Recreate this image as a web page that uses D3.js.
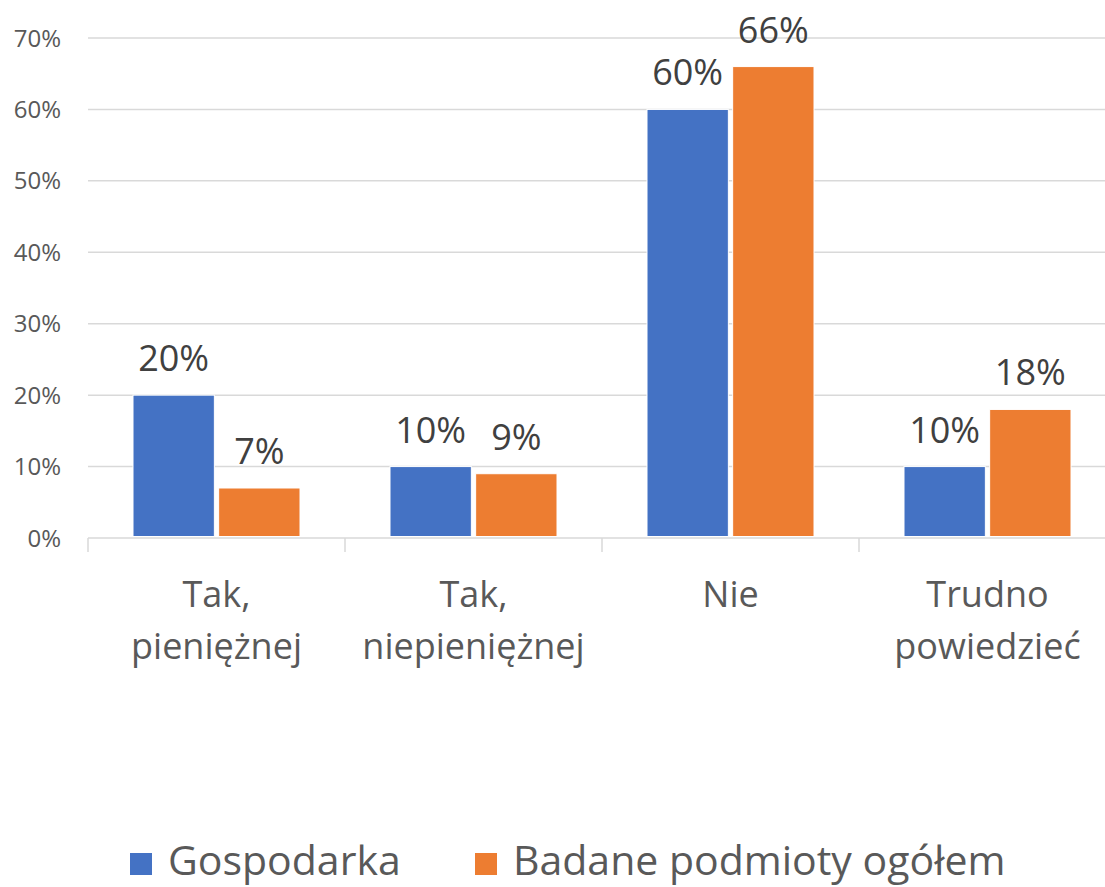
<!DOCTYPE html>
<html>
<head>
<meta charset="utf-8">
<script src="https://cdn.jsdelivr.net/npm/d3@7"></script>
<style>
  body { margin: 0; background: #fff; }
  text { font-family: "Open Sans", "Noto Sans", sans-serif; }
</style>
</head>
<body>
<div id="chart"></div>
<script>
// chart data
var categories = [["Tak,", "pieniężnej"], ["Tak,", "niepieniężnej"], ["Nie"], ["Trudno", "powiedzieć"]];
var seriesNames = ["Gospodarka", "Badane podmioty ogółem"];
var gospodarka = [0.20, 0.10, 0.60, 0.10];
var ogolem = [0.07, 0.09, 0.66, 0.18];
var yTicks = [0, 0.1, 0.2, 0.3, 0.4, 0.5, 0.6, 0.7];
var colors = ["#4472c4", "#ed7d31"];

function init(){
    var w = 1105;
    var h = 887;

    var svg = d3.select("#chart")
                .append("svg")
                .attr("width", w)
                .attr("height", h);

    // category scale, last band runs off the right edge like the original
    var x0 = d3.scaleBand()
                .domain(d3.range(categories.length))
                .range([88, 1116])
                .paddingInner(0);

    var x1 = d3.scaleBand()
                .domain(d3.range(seriesNames.length))
                .range([45, x0.bandwidth() - 45])
                .paddingInner(0.05);

    var yScale = d3.scaleLinear()
                .domain([0, 0.7])
                .range([538, 38]);

    // gridlines
    svg.append("g")
        .selectAll("line")
        .data(yTicks.slice(1))
        .enter()
        .append("line")
        .attr("x1", 88)
        .attr("x2", 1116)
        .attr("y1", function(d){ return yScale(d); })
        .attr("y2", function(d){ return yScale(d); })
        .attr("stroke", "#d9d9d9")
        .attr("stroke-width", 1.5);

    // y labels
    svg.append("g")
        .selectAll("text")
        .data(yTicks)
        .enter()
        .append("text")
        .attr("x", 61)
        .attr("y", function(d){ return yScale(d); })
        .attr("dy", "0.36em")
        .attr("text-anchor", "end")
        .attr("font-size", "24px")
        .attr("fill", "#595959")
        .text(d3.format(".0%"));

    // bars
    var values = [gospodarka, ogolem];
    var groups = svg.append("g")
        .selectAll("g")
        .data(d3.range(categories.length))
        .enter()
        .append("g")
        .attr("transform", function(i){ return "translate(" + x0(i) + ",0)"; });

    groups.selectAll("rect")
        .data(function(i){ return values.map(function(v, s){ return {s: s, v: v[i]}; }); })
        .enter()
        .append("rect")
        .attr("x", function(d){ return x1(d.s); })
        .attr("y", function(d){ return yScale(d.v); })
        .attr("width", x1.bandwidth())
        .attr("height", function(d){ return yScale(0) - yScale(d.v) - 1.5; })
        .attr("fill", function(d){ return colors[d.s]; })
        .attr("stroke", "#fff")
        .attr("stroke-width", 1);

    // data labels
    groups.selectAll(".label")
        .data(function(i){ return values.map(function(v, s){ return {s: s, v: v[i]}; }); })
        .enter()
        .append("text")
        .attr("class", "label")
        .attr("x", function(d){ return x1(d.s) + x1.bandwidth() / 2; })
        .attr("y", function(d){ return yScale(d.v) - 24; })
        .attr("text-anchor", "middle")
        .attr("font-size", "36px")
        .attr("fill", "#404040")
        .text(function(d){ return d3.format(".0%")(d.v); });

    // x axis line and ticks
    svg.append("line")
        .attr("x1", 88).attr("x2", 1116)
        .attr("y1", 538).attr("y2", 538)
        .attr("stroke", "#d9d9d9")
        .attr("stroke-width", 1.5);

    svg.append("g")
        .selectAll("line")
        .data(d3.range(categories.length + 1))
        .enter()
        .append("line")
        .attr("x1", function(i){ return 88 + i * x0.bandwidth(); })
        .attr("x2", function(i){ return 88 + i * x0.bandwidth(); })
        .attr("y1", 538).attr("y2", 552)
        .attr("stroke", "#d9d9d9")
        .attr("stroke-width", 1.5);

    // category labels
    var catText = svg.append("g")
        .selectAll("text")
        .data(categories)
        .enter()
        .append("text")
        .attr("text-anchor", "middle")
        .attr("font-size", "36px")
        .attr("fill", "#595959");

    catText.selectAll("tspan")
        .data(function(d, i){ return d.map(function(line){ return {line: line, i: i}; }); })
        .enter()
        .append("tspan")
        .attr("x", function(d){ return x0(d.i) + x0.bandwidth() / 2; })
        .attr("y", function(d, j){ return 607 + j * 52; })
        .text(function(d){ return d.line; });

    // legend
    var legendX = [130, 475];
    var legend = svg.append("g")
        .selectAll("g")
        .data(seriesNames)
        .enter()
        .append("g")
        .attr("transform", function(d, i){ return "translate(" + legendX[i] + ",853)"; });

    legend.append("rect")
        .attr("width", 22)
        .attr("height", 22)
        .attr("fill", function(d, i){ return colors[i]; });

    legend.append("text")
        .attr("x", 38)
        .attr("y", 22)
        .attr("font-size", "41px")
        .attr("fill", "#595959")
        .text(function(d){ return d; });
}
window.onload = init;
</script>
</body>
</html>
